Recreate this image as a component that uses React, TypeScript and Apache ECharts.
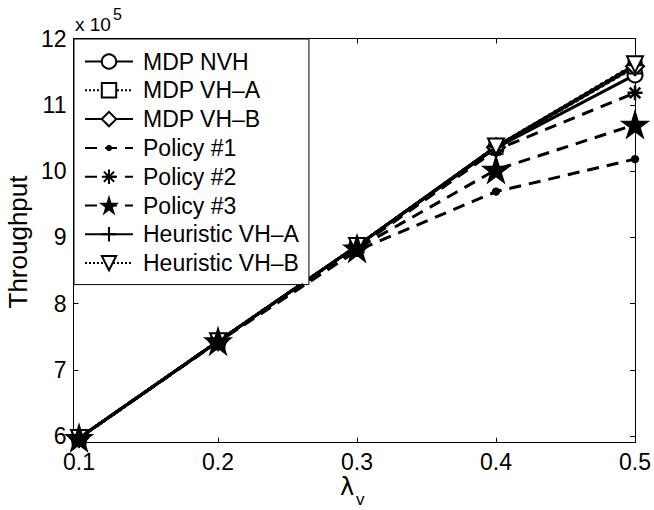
import React, { useEffect, useRef } from 'react';
import * as echarts from 'echarts';

// lambda_v values (x axis)
const lambdaV = [0.1, 0.2, 0.3, 0.4, 0.5];
const xTickValues = [0.1, 0.2, 0.3, 0.4, 0.5];
const yTickValues = [6, 7, 8, 9, 10, 11, 12];

// Throughput, in units of 10^5
const mdpNvh = [5.97, 7.43, 8.87, 10.35, 11.45];
const mdpVhA = [5.97, 7.43, 8.87, 10.36, 11.57];
const mdpVhB = [5.97, 7.43, 8.87, 10.36, 11.58];
const policy1 = [5.97, 7.42, 8.8, 9.69, 10.18];
const policy2 = [5.97, 7.43, 8.84, 10.32, 11.18];
const policy3 = [5.97, 7.43, 8.83, 10.02, 10.7];
const heurVhA = [5.97, 7.43, 8.87, 10.37, 11.6];
const heurVhB = [5.97, 7.43, 8.87, 10.37, 11.61];

const seriesNames = [
  'MDP NVH',
  'MDP VH–A',
  'MDP VH–B',
  'Policy #1',
  'Policy #2',
  'Policy #3',
  'Heuristic VH–A',
  'Heuristic VH–B',
];

const FONT = 'Liberation Sans, Arial, sans-serif';

const STAR = 'path://M0,-100 L22,-31 L95,-31 L36,12 L59,81 L0,38 L-59,81 L-36,12 L-95,-31 L-22,-31 Z';
const ASTERISK = 'path://M0,-100 L0,100 M-100,0 L100,0 M-71,-71 L71,71 M-71,71 L71,-71';
const PLUS = 'path://M0,-100 L0,100 M-100,0 L100,0';
const DOT = 'path://M-100,-100 M100,100 M-30,0 L-21,-21 L0,-30 L21,-21 L30,0 L21,21 L0,30 L-21,21 Z';

export default function App() {
  const ref = useRef<HTMLDivElement>(null);

  useEffect(() => {
    if (!ref.current) return;
    const chart = echarts.init(ref.current, undefined, { renderer: 'svg' });

    const toPairs = (arr: number[]) => lambdaV.map((x, i) => [x, arr[i]]);

    const mk = (
      name: string,
      arr: number[],
      lineType: any,
      symbol: string,
      symbolSize: number,
      extra: any = {}
    ) => ({
      name,
      type: 'line',
      data: toPairs(arr),
      xAxisIndex: 0,
      yAxisIndex: 0,
      symbol,
      symbolSize,
      showAllSymbol: true,
      lineStyle: { color: '#000', width: 3, type: lineType },
      itemStyle: { color: '#000', borderColor: '#000', borderWidth: 2.5 },
      emphasis: { disabled: true },
      ...extra,
    });

    const axisLine = { show: true, onZero: false, lineStyle: { color: '#000', width: 1 } };

    const option: any = {
      animation: false,
      backgroundColor: '#fff',
      textStyle: { fontFamily: FONT },
      grid: { left: 73.5, right: 17, top: 38.5, bottom: 67.3, containLabel: false },
      xAxis: [
        {
          type: 'value',
          position: 'bottom',
          min: 0.096,
          max: 0.5,
          axisLine,
          axisTick: { show: true, inside: true, length: 5, customValues: xTickValues, lineStyle: { color: '#000' } },
          axisLabel: {
            customValues: xTickValues,
            formatter: (v: number) => v.toFixed(1),
            fontSize: 23,
            lineHeight: 20,
            color: '#000',
            fontFamily: FONT,
            margin: 9,
          },
          splitLine: { show: false },
        },
        {
          type: 'value',
          position: 'top',
          min: 0.096,
          max: 0.5,
          axisLine,
          axisTick: { show: true, inside: true, length: 5, customValues: xTickValues, lineStyle: { color: '#000' } },
          axisLabel: { show: false },
          splitLine: { show: false },
        },
      ],
      yAxis: [
        {
          type: 'value',
          position: 'left',
          min: 5.9,
          max: 12,
          axisLine,
          axisTick: { show: true, inside: true, length: 5, customValues: yTickValues, lineStyle: { color: '#000' } },
          axisLabel: {
            customValues: yTickValues,
            fontSize: 23,
            color: '#000',
            fontFamily: FONT,
            margin: 7,
          },
          splitLine: { show: false },
        },
        {
          type: 'value',
          position: 'right',
          min: 5.9,
          max: 12,
          axisLine,
          axisTick: { show: true, inside: true, length: 5, customValues: yTickValues, lineStyle: { color: '#000' } },
          axisLabel: { show: false },
          splitLine: { show: false },
        },
      ],
      legend: {
        orient: 'vertical',
        left: 74,
        top: 39,
        padding: [11, 10, 10, 10],
        itemWidth: 48,
        itemHeight: 18,
        itemGap: 5.8,
        backgroundColor: '#fff',
        borderColor: '#000',
        borderWidth: 1,
        borderRadius: 0,
        selectedMode: false,
        textStyle: { fontSize: 23, color: '#000', fontFamily: FONT, lineHeight: 18, padding: [0, 0, 0, 5] },
        data: seriesNames,
      },
      graphic: [
        {
          type: 'text',
          left: 75,
          top: 15,
          style: { text: 'x 10', fontSize: 19, fill: '#000', fontFamily: FONT },
        },
        {
          type: 'text',
          left: 113,
          top: 6,
          style: { text: '5', fontSize: 16, fill: '#000', fontFamily: FONT },
        },
        {
          type: 'text',
          left: 340,
          top: 475,
          style: { text: 'λ', fontSize: 24, lineHeight: 20, fill: '#000', fontFamily: 'DejaVu Sans, sans-serif' },
        },
        {
          type: 'text',
          left: 356,
          top: 491,
          style: { text: 'v', fontSize: 17, lineHeight: 14, fill: '#000', fontFamily: FONT },
        },
        {
          type: 'text',
          x: 18,
          y: 242,
          rotation: Math.PI / 2,
          style: {
            text: 'Throughput',
            fontSize: 26,
            fill: '#000',
            fontFamily: FONT,
            align: 'center',
            verticalAlign: 'middle',
          },
        },
      ],
      series: [
        mk(seriesNames[0], mdpNvh, 'solid', 'emptyCircle', 15),
        mk(seriesNames[1], mdpVhA, 'dotted', 'emptyRect', 13),
        mk(seriesNames[2], mdpVhB, 'solid', 'emptyDiamond', 18),
        mk(seriesNames[3], policy1, [12, 8], DOT, 20),
        mk(seriesNames[4], policy2, [12, 8], ASTERISK, 15),
        mk(seriesNames[5], policy3, [12, 8], STAR, 23, { z: 4 }),
        mk(seriesNames[6], heurVhA, 'solid', PLUS, 16),
        mk(seriesNames[7], heurVhB, 'dotted', 'emptyTriangle', 16, { symbolRotate: 180 }),
      ],
    };

    chart.setOption(option);
    return () => chart.dispose();
  }, []);

  return (
    <div
      ref={ref}
      style={{ position: 'absolute', left: 0, top: 0, width: 654, height: 510, background: '#fff' }}
    />
  );
}
